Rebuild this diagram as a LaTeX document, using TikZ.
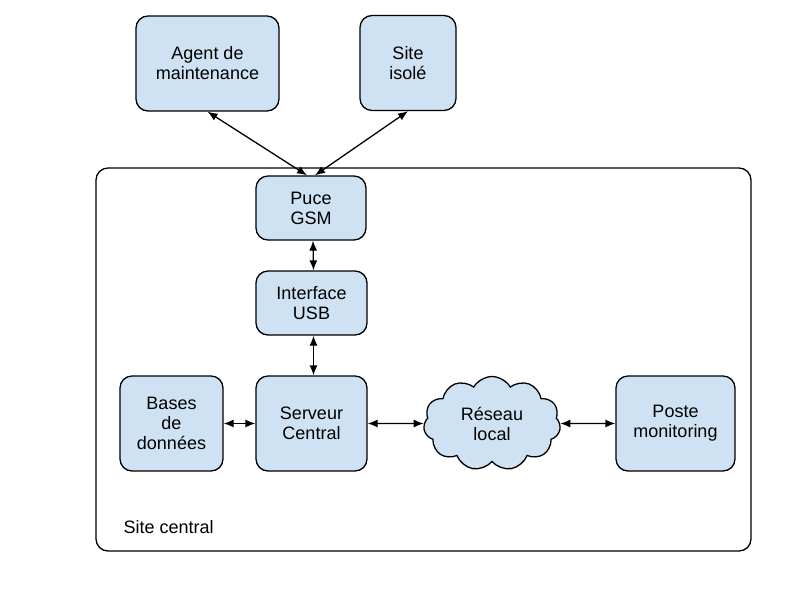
\documentclass[tikz,border=0pt]{standalone}
\usepackage{fontspec}
\setmainfont{Liberation Sans}
\definecolor{boxblue}{RGB}{207, 226, 243}
\usetikzlibrary{shapes.symbols, arrows.meta}

\tikzset{
  box/.style={draw, line width=1.3pt, fill=boxblue, rounded corners=12pt, align=center, font=\fontsize{18}{20}\selectfont, minimum height=95pt, inner sep=2pt},
  link/.style={{Latex[length=10pt,width=8pt]}-{Latex[length=10pt,width=8pt]}, line width=1.3pt},
}

\begin{document}
\begin{tikzpicture}[x=1pt, y=-1pt]
  \useasboundingbox (0,0) rectangle (800,600);

  % Site central frame
  \node[draw, line width=1.3pt, rounded corners=12pt, minimum width=655pt, minimum height=383pt] (central) at (423.5, 359.5) {};
  \node[anchor=west, font=\fontsize{18}{20}\selectfont] (centrallabel) at (120, 527) {Site central};

  % Remote side
  \node[box, minimum width=143pt] (agent) at (207.5, 63.5) {Agent de\\maintenance};
  \node[box, minimum width=96pt] (site) at (408, 63) {Site\\isolé};

  % Chain inside the site
  \node[box, minimum width=110pt, minimum height=64pt] (gsm) at (311, 208) {Puce\\GSM};
  \node[box, minimum width=111pt, minimum height=64pt] (usb) at (311.5, 303) {Interface\\USB};
  \node[box, minimum width=111pt] (serveur) at (311.5, 423.5) {Serveur\\Central};
  \node[box, minimum width=103pt] (bases) at (171.5, 423.5) {Bases\\de\\données};
  \node[box, minimum width=119pt] (poste) at (675.5, 423.5) {Poste\\monitoring};

  % Network cloud
  \node[cloud, cloud puffs=11, cloud puff arc=120, aspect=1.4, draw, line width=1.3pt, fill=boxblue, minimum width=137pt, minimum height=94pt, align=center, font=\fontsize{18}{20}\selectfont, inner sep=0pt] (reseau) at (492, 423.5) {Réseau\\local};

  % Links
  \draw[link] (agent.south) -- ([xshift=-4pt]gsm.north);
  \draw[link] (site.south) -- ([xshift=4pt]gsm.north);
  \draw[link] ([xshift=2pt]gsm.south) -- ([xshift=2pt]usb.north);
  \draw[link] ([xshift=2pt]usb.south) -- ([xshift=2pt]serveur.north);
  \draw[link] (bases.east) -- (serveur.west);
  \draw[link] (serveur.east) -- (reseau.west);
  \draw[link] (reseau.east) -- (poste.west);
\end{tikzpicture}
\end{document}
